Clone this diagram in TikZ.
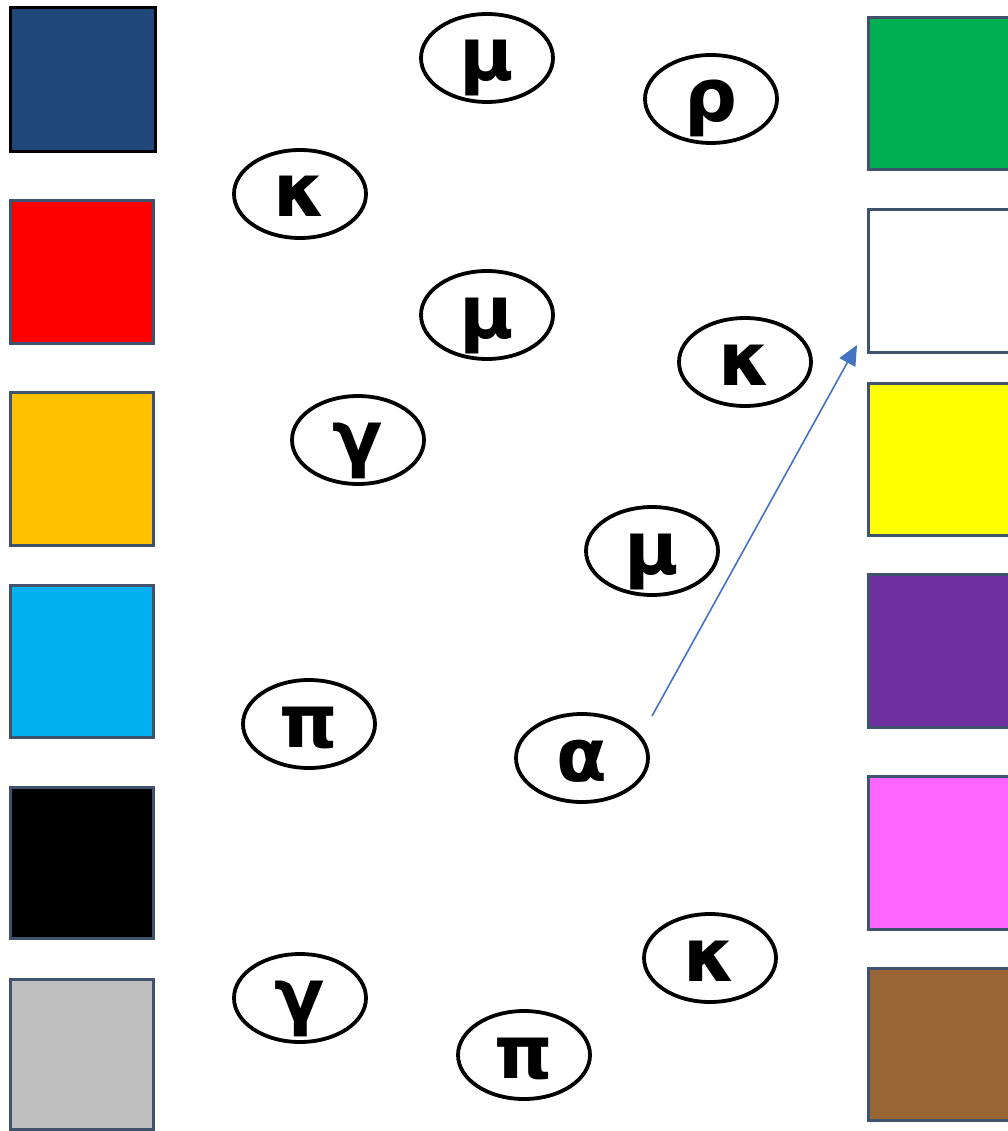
\documentclass[tikz,border=0pt]{standalone}
\usepackage{fontspec}
\newfontfamily\gk{DejaVu Sans}
\usetikzlibrary{shapes.geometric,arrows.meta}
\definecolor{slate}{RGB}{65,82,108}
\definecolor{cnavy}{RGB}{31,71,122}
\definecolor{cred}{RGB}{255,0,0}
\definecolor{corange}{RGB}{255,192,0}
\definecolor{cblue}{RGB}{0,176,240}
\definecolor{cgray}{RGB}{191,191,191}
\definecolor{cgreen}{RGB}{0,176,80}
\definecolor{cyellow}{RGB}{255,255,0}
\definecolor{cpurple}{RGB}{112,48,160}
\definecolor{cpink}{RGB}{255,102,255}
\definecolor{cbrown}{RGB}{153,102,51}
\definecolor{arrowblue}{RGB}{68,114,196}
\tikzset{
  sq/.style={draw=slate, line width=3pt},
  lett/.style={draw=black, ellipse, line width=3.8pt, minimum width=132pt, minimum height=88pt,
    inner sep=0pt, text height=46pt, text depth=0pt,
    font=\gk\bfseries\fontsize{74}{74}\selectfont},
  conn/.style={draw=arrowblue, line width=1.6pt, -{Triangle[length=20pt,width=18pt]}}
}
\begin{document}
\begin{tikzpicture}[x=1pt,y=-1pt]
\useasboundingbox (0,0) rectangle (1008,1131);
\clip (0,0) rectangle (1008,1131);
\fill[white] (0,0) rectangle (1008,1131);
% left squares
\path[sq, draw=black, fill=cnavy] (10,8) rectangle (155,152);
\path[sq, fill=cred] (10,201) rectangle (153,343);
\path[sq, fill=corange] (10,392) rectangle (153,545);
\path[sq, fill=cblue] (10,585) rectangle (153,737);
\path[sq, fill=black] (10,787) rectangle (153,938);
\path[sq, fill=cgray] (10,979) rectangle (153,1129);
% right squares
\path[sq, fill=cgreen] (868,18) rectangle (1030,170);
\path[sq, fill=white] (868,210) rectangle (1030,352);
\path[sq, fill=cyellow] (868,383) rectangle (1030,535);
\path[sq, fill=cpurple] (868,574) rectangle (1030,727);
\path[sq, fill=cpink] (868,776) rectangle (1030,929);
\path[sq, fill=cbrown] (868,968) rectangle (1030,1120);
% ellipses
\node[lett] (mu1) at (487,58) {μ};
\node[lett] (rho) at (711,99) {ρ};
\node[lett] (ka1) at (300,194) {κ};
\node[lett] (mu2) at (487,315) {μ};
\node[lett] (ka2) at (745,362) {κ};
\node[lett] (ga1) at (358,440) {γ};
\node[lett] (mu3) at (652,551) {μ};
\node[lett] (pi1) at (309,724) {π};
\node[lett] (al) at (582,758) {α};
\node[lett] (ka3) at (710,958) {κ};
\node[lett] (ga2) at (300,998) {γ};
\node[lett] (pi2) at (524,1055) {π};
% arrow
\coordinate (astart) at (652,716);
\coordinate (aend) at (857,345);
\draw[conn] (astart) -- (aend);
\end{tikzpicture}
\end{document}
